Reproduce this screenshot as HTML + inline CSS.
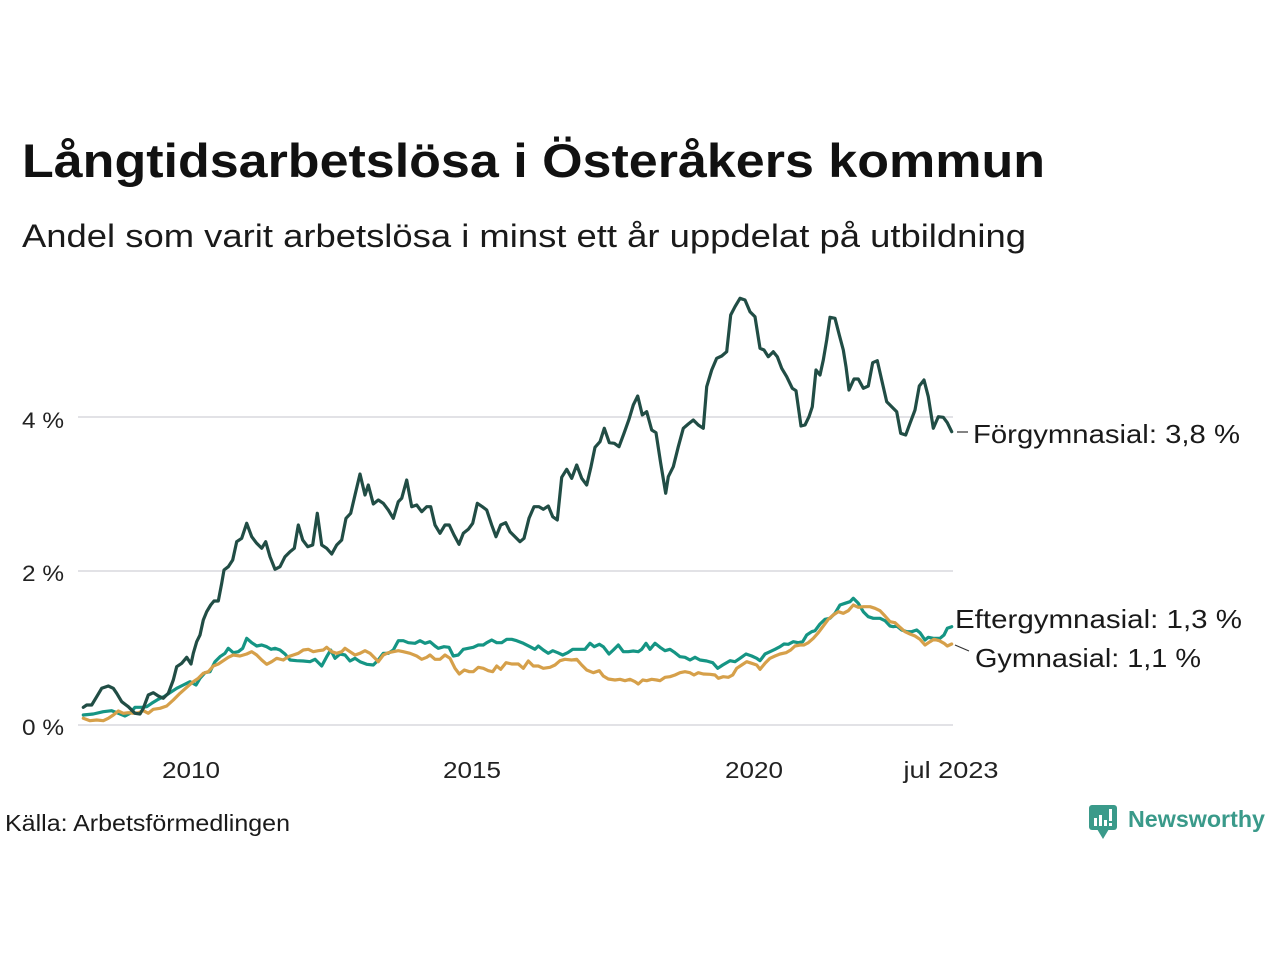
<!DOCTYPE html>
<html>
<head>
<meta charset="utf-8">
<style>
  html,body{margin:0;padding:0;background:#fff;}
  svg{display:block;}
  text{font-family:"Liberation Sans", "DejaVu Sans", sans-serif;}
</style>
</head>
<body>
<svg width="1280" height="960" viewBox="0 0 1280 960" xmlns="http://www.w3.org/2000/svg">
  <rect width="1280" height="960" fill="#ffffff"/>

  <!-- Title & subtitle -->
  <text x="22" y="177" font-size="47" font-weight="bold" fill="#111111" textLength="1023" lengthAdjust="spacingAndGlyphs">Långtidsarbetslösa i Österåkers kommun</text>
  <text x="22" y="247" font-size="32" fill="#1a1a1a" textLength="1004" lengthAdjust="spacingAndGlyphs">Andel som varit arbetslösa i minst ett år uppdelat på utbildning</text>

  <!-- Grid lines -->
  <g stroke="#e2e2e6" stroke-width="2">
    <line x1="78" y1="417" x2="953" y2="417"/>
    <line x1="78" y1="571" x2="953" y2="571"/>
    <line x1="78" y1="725" x2="953" y2="725"/>
  </g>

  <!-- Y labels -->
  <g font-size="22" fill="#222">
    <text x="22" y="428" textLength="42" lengthAdjust="spacingAndGlyphs">4 %</text>
    <text x="22" y="581" textLength="42" lengthAdjust="spacingAndGlyphs">2 %</text>
    <text x="22" y="735" textLength="42" lengthAdjust="spacingAndGlyphs">0 %</text>
  </g>

  <!-- X labels -->
  <g font-size="23" fill="#222" text-anchor="middle">
    <text x="191" y="778" textLength="58" lengthAdjust="spacingAndGlyphs">2010</text>
    <text x="472" y="778" textLength="58" lengthAdjust="spacingAndGlyphs">2015</text>
    <text x="754" y="778" textLength="58" lengthAdjust="spacingAndGlyphs">2020</text>
    <text x="951" y="778" textLength="95" lengthAdjust="spacingAndGlyphs">jul 2023</text>
  </g>

  <!-- Series -->
  <g fill="none" stroke-width="3.2" stroke-linejoin="round" stroke-linecap="round">
    <polyline stroke="#159584" points="83.3,715 93.3,714 103.3,711.7 111.7,710.7 118.3,713.3 125,716 130,713.3 135,707.3 141.7,707.3 146.7,706.7 151.7,703.3 158.3,699.3 165,696 170,692.7 176.7,688.3 183.3,685 190,681.7 196,685 200,678.3 205,672.7 210,671.7 215,661.7 220,656.7 225,653.3 228.3,648.3 233.3,652.7 238.3,651.7 242.7,648.3 246.7,638.3 251.7,642.7 256.7,646 261.7,645 266.7,646.7 271,649.3 275,648.3 280,650 285,654 290,660 296.7,660.7 303.3,661 310,661.7 315,659.3 321.7,666 326.7,656.7 330.7,650 335,658.3 340,654 345,655 350,661 355,658.3 360,661.7 366.7,664.3 373.3,665 378.3,660 383.3,653.3 388.3,653.3 393.3,650 398.3,640.7 403.3,640.7 408.3,642.7 415,643.3 420,640.7 425,643.3 430,641.7 435,646 438.3,648.3 444,646.7 449,647.3 453.3,656 458.3,655 463.3,649.3 468.3,648.3 473.3,647.3 478.3,645 483.3,645 486.7,642.7 491.7,640 496.7,642.7 501.7,642.7 506.7,639.3 511.7,639.3 516.7,640.7 523.3,643.3 530,646.7 535,649.3 538.3,646 543.3,650 548.3,653.3 552.7,650.7 557.7,652.7 562.7,655 567.7,652.7 572.7,649.3 578.3,649.3 585,649.3 590,643.3 594.3,646.7 599.3,644.3 603.3,646.7 609,654 613.3,650 618.3,645 623.3,651.7 628.3,651.7 633.3,651 638.3,651.7 641.7,649.3 646,643.3 650,649.3 655,643.3 660,647.3 665,650.7 670,649.3 675,652.7 680,656.7 685,657.3 690,660 695,657.3 700,660 706.7,661 712.7,662.7 717.7,668.3 722.7,665 730,660.7 735,661.7 740,658.3 746,654 751.7,656 756.7,658.3 760,660.7 765,654 770,651.7 775,649.3 780,646.7 784,644 788.3,644.3 793.3,641.7 798.3,642.7 802.7,641.7 806.7,635 811.7,631.7 815,630.7 820,624 825,619.3 830,618.3 835,613.3 840,605 845,603.3 850,601.7 853.3,598.3 858.3,603.3 863.3,611.7 868.3,616.7 873.3,618.3 880,618.3 885,620.7 890,626 893.3,626.7 896.7,626 901.7,630 906.7,631.7 911.7,631.7 916.7,630 920,632.7 925,640 928.3,637.3 933.3,638.3 940,638.3 944,635 947.3,628.3 951.7,626.7"/>
    <polyline stroke="#d6a04a" points="83.3,718.3 90,720.7 96.7,720 103.3,720.7 108.3,718.3 113.3,715 118.3,711 123.3,713.3 128.3,712.7 133.3,713.3 138.3,712.7 143.3,710.7 148.3,713.3 153.3,709.3 160,708.3 166.7,706 173.3,700 180,693.3 186.7,687.3 193.3,681.7 198.3,678.3 203.3,673.3 208.3,671.7 213.3,666 218.3,664 223.3,660.7 228.3,657.3 233.3,655 240,656 246.7,654 251.7,651.7 256.7,655 261.7,660 266.7,664.3 271.7,661.7 276.7,658.3 283.3,660 288.3,656.7 293.3,655 298.3,653.3 303.3,650 308.3,649.3 313.3,651.7 318.3,650.7 323.3,650 326.7,647.3 331.7,651.7 336.7,653.3 341.7,651.7 345,648.3 350,651.7 355,655 360,653.3 365,650.7 370,653.3 375,658.3 378.3,661.7 383.3,655 388.3,652.7 393.3,651.7 398.3,650.7 403.3,651.7 410,653.3 416.7,656 421.7,659.3 426.7,657.3 430,655 435,659.3 440,659.3 445,655 450,658.3 455,668.3 459.3,674 464.3,670 469.3,671.7 473.3,671.7 478.3,667.3 483.3,668.3 488.3,670.7 492.7,671.7 496.7,666 500.7,669.3 506,662.7 511.7,664 518.3,664 523.3,668.3 528.3,661 533.3,666 538.3,666 543.3,668.3 550,667.3 555,665 560,660.7 565,659.3 571.7,660 576.7,659.3 581.7,665 586.7,670 593.3,672.7 599.3,670.7 603.3,676 608.3,679 615,680 620,679.3 625,680.7 630,679.3 635,681.7 638.3,684 642.7,680 646.7,680.7 651.7,679.3 656.7,680 660,680.7 665,677.3 670,676.7 675,675 680,672.7 685,671.7 690,672.7 694,675 698.3,672.7 703.3,674 710,674.3 715,675 718.3,678.3 723.3,676.7 728.3,677.3 732.7,675 736.7,668.3 741.7,665 746.7,661.7 751.7,663.3 756.7,665 760,669.3 765,663.3 770,658.3 775,656 780,654 786,652.7 790.7,650 795,646 800,645 804,645 808.3,642.7 813.3,638.3 818.3,632.7 823.3,626 828.3,619.3 833.3,615 838.3,611.7 843.3,613.3 848.3,610.7 853.3,605 858.3,607.3 863.3,606.7 870,606.7 875,608.3 880,610.7 885,616 890,621.7 895,622.7 900,627.3 905,631.7 910,634 915,636 920,639.3 925,645 930,641.7 934,639.3 939.3,640.7 944,643.3 947.3,646 951.7,644"/>
    <polyline stroke="#214d45" points="83.3,707.3 86.7,705 91.7,705 96.7,696.7 101.7,688.3 108.3,686 113.3,688.3 116.7,693.3 121.7,701.7 128.3,706.7 135,713.3 140,714 143.3,708.3 148.3,695 153.3,692.7 158.3,696 163.3,698.3 168.3,693.3 173.3,680 176.7,666.7 181.7,663.3 186.7,657.3 191,664 193.3,653.3 196.7,641.7 200,635 203.3,620 206.7,611.7 210.7,605 214,601 218.3,601 221.7,583.3 224,570 228.3,566.7 232.7,560 236.7,541.7 241.7,538.3 246.7,523.3 251.7,536.7 256.7,543.3 261.7,548.3 265.7,541.7 270,556.7 275,569.3 280,566.7 285,556.7 290,551.7 294.3,548.3 298.3,525 302.7,540 307.7,546.7 312.7,545 317.3,513.3 321.7,545 326.7,548.3 331.7,554 336.7,545 341.7,540 346,518.3 350.7,513.3 355,495 360,474 365,495 368.3,485 373.3,504 378.3,500 383.3,503.3 388.3,510 393.3,518.3 398.3,501.7 401.7,498.3 406.7,480 411.7,506.7 416.7,505 421.7,511.7 426.7,506.7 430.7,506.7 435,525 440,533.3 445,525 449.3,525 454,535 459,544.3 463.3,533.3 468.3,529.3 472.7,523.3 477.3,503.3 482.3,506.7 486.7,510 491.7,525 496,536.7 500.7,525 505.7,522.7 510,531.7 515,536.7 520,541.7 524,538.3 529,518.3 534,506.7 539,506.7 543.3,509.3 548.3,506 552.7,516.7 557.3,520 561.7,477.3 566.7,469.3 571.7,478.3 576.7,465 581.7,478.3 586.7,485 591,466.7 595,447.3 600,441.7 604.3,428.3 609.3,442.7 614.3,443.3 619,446.7 624,433.3 629,419.3 633.3,405 637.7,396 642.3,415 646.7,411.7 651.7,430 656,432.7 660.7,463.3 665.7,493.3 668.3,476.7 673.3,466.7 678.3,446.7 683.3,428.3 688.3,424 693.3,420 698.3,425 703.3,428.3 706.7,386.7 711.7,370 716.7,358.3 721.7,356 726.7,351.7 730.7,315 735,306.7 740,298.3 745,300 750,311.7 755,316.7 760,348.3 764,350 768.3,356.7 773.3,351.7 777.3,356.7 781.7,368.3 786.7,376.7 792.3,388.3 796,390.7 801,426 805,425 809,416.7 812.3,406.7 816,370 820,375 823.3,360 826.7,340 830,317.3 835,318.3 839.3,335 843.3,350 846,366.7 849,390 854,379 858.3,379 863.3,388.3 868.3,386 872.7,362.7 877.3,360.7 881.7,380 886.7,401.7 891.7,406.7 896.7,411.7 900.7,433.3 905.7,435 910,423.3 915,410 919.3,386 924,380 928.3,396.7 933.3,428.3 938.3,416.7 943.3,417.3 947.3,422.7 951.7,431.7"/>
  </g>

  <!-- Leader lines -->
  <g stroke="#333" stroke-width="1.2">
    <line x1="957" y1="432" x2="968" y2="432"/>
    <line x1="955" y1="645" x2="969" y2="651"/>
  </g>

  <!-- Series labels -->
  <g font-size="26" fill="#1a1a1a">
    <text x="973" y="443" textLength="267" lengthAdjust="spacingAndGlyphs">Förgymnasial: 3,8 %</text>
    <text x="955" y="628" textLength="287" lengthAdjust="spacingAndGlyphs">Eftergymnasial: 1,3 %</text>
    <text x="975" y="667" textLength="226" lengthAdjust="spacingAndGlyphs">Gymnasial: 1,1 %</text>
  </g>

  <!-- Source -->
  <text x="5" y="831" font-size="23" fill="#1a1a1a" textLength="285" lengthAdjust="spacingAndGlyphs">Källa: Arbetsförmedlingen</text>

  <!-- Logo -->
  <g>
    <rect x="1089" y="805" width="28" height="25" rx="3" fill="#3a9a8a"/>
    <polygon points="1097,829 1109,829 1103,839" fill="#3a9a8a"/>
    <rect x="1094" y="818" width="3" height="8" fill="#fff"/>
    <rect x="1099" y="815" width="3" height="11" fill="#fff"/>
    <rect x="1104" y="820" width="3" height="6" fill="#fff"/>
    <rect x="1109" y="809" width="3" height="12" fill="#fff"/>
    <rect x="1109" y="823" width="3" height="3" fill="#fff"/>
    <text x="1128" y="827" font-size="23" font-weight="bold" fill="#3a9a8a" textLength="137" lengthAdjust="spacingAndGlyphs">Newsworthy</text>
  </g>
</svg>
</body>
</html>
